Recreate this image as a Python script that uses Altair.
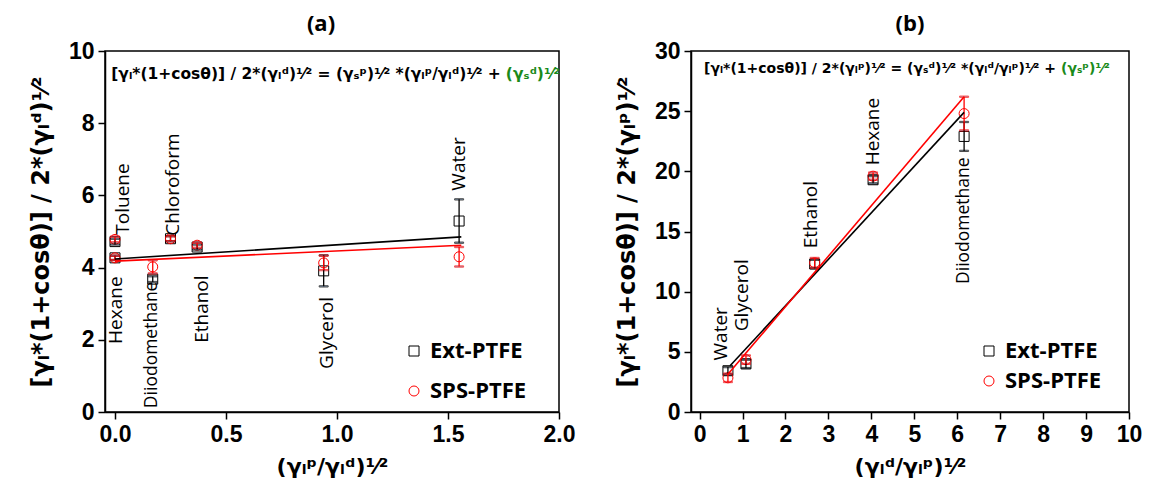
import altair as alt
import pandas as pd

# ---------------- Panel (a) data ----------------
a_solvents = ["Hexane", "Toluene", "Diiodomethane", "Chloroform", "Ethanol", "Glycerol", "Water"]
a_x = [0.0, 0.0, 0.17, 0.25, 0.37, 0.94, 1.55]
a_ext_y = [4.27, 4.72, 3.68, 4.80, 4.57, 3.91, 5.29]
a_ext_err = [0.06, 0.08, 0.08, 0.07, 0.07, 0.43, 0.60]
a_sps_y = [4.27, 4.78, 4.02, 4.80, 4.62, 4.13, 4.30]
a_sps_err = [0.06, 0.08, 0.18, 0.07, 0.07, 0.20, 0.27]
a_label_x = [0.005, 0.035, 0.165, 0.26, 0.39, 0.955, 1.55]
a_label_y = [2.82, 5.9, 1.86, 6.3, 2.85, 2.19, 6.87]
a_fit_x = [0.0, 1.56]
a_fit_ext = [4.24, 4.85]
a_fit_sps = [4.18, 4.62]
a_x_ticks = [0.0, 0.5, 1.0, 1.5, 2.0]
a_y_ticks = [0, 2, 4, 6, 8, 10]
a_formula_black = "[γₗ*(1+cosθ)] / 2*(γₗᵈ)¹⁄² = (γₛᵖ)¹⁄² *(γₗᵖ/γₗᵈ)¹⁄² +"
a_formula_green = "(γₛᵈ)¹⁄²"
a_formula_pos = [1.738, 9.36]

# ---------------- Panel (b) data ----------------
b_solvents = ["Water", "Glycerol", "Ethanol", "Hexane", "Diiodomethane"]
b_x = [0.66, 1.08, 2.68, 4.04, 6.16]
b_ext_y = [3.43, 4.00, 12.3, 19.3, 22.9]
b_ext_err = [0.30, 0.35, 0.35, 0.30, 1.20]
b_sps_y = [2.84, 4.35, 12.4, 19.6, 24.8]
b_sps_err = [0.35, 0.35, 0.40, 0.30, 1.40]
b_label_x = [0.51, 0.99, 2.60, 4.03, 6.16]
b_label_y = [6.5, 9.7, 16.4, 23.3, 15.9]
b_fit_ext_x = [0.71, 6.16]
b_fit_ext = [3.84, 24.9]
b_fit_sps_x = [0.65, 6.16]
b_fit_sps = [3.1, 26.2]
b_x_ticks = [0, 1, 2, 3, 4, 5, 6, 7, 8, 9, 10]
b_y_ticks = [0, 5, 10, 15, 20, 25, 30]
b_formula_black = "[γₗ*(1+cosθ)] / 2*(γₗᵖ)¹⁄² = (γₛᵈ)¹⁄² *(γₗᵈ/γₗᵖ)¹⁄² +"
b_formula_green = "(γₛᵖ)¹⁄²"
b_formula_pos = [8.3, 28.5]

SERIES = ["Ext-PTFE", "SPS-PTFE"]
COLORS = ["black", "red"]
SHAPES = ["square", "circle"]


def points_df(solvents, x, ext_y, ext_err, sps_y, sps_err):
    rows = []
    for s, xv, ey, ee, sy, se in zip(solvents, x, ext_y, ext_err, sps_y, sps_err):
        rows.append(dict(solvent=s, x=xv, y=ey, lo=ey - ee, hi=ey + ee, series="Ext-PTFE"))
        rows.append(dict(solvent=s, x=xv, y=sy, lo=sy - se, hi=sy + se, series="SPS-PTFE"))
    return pd.DataFrame(rows)


def fit_df(ext_x, ext_y, sps_x, sps_y):
    rows = [dict(x=a, y=b, series="Ext-PTFE") for a, b in zip(ext_x, ext_y)]
    rows += [dict(x=a, y=b, series="SPS-PTFE") for a, b in zip(sps_x, sps_y)]
    return pd.DataFrame(rows)


def panel(pts, fit, labels, fblack, fgreen, fpos, fsize, xdom, xticks, xfmt, ydom, yticks,
          xtitle, ytitle, title, title_dx, w, h, lx, ly, row_pad, title_offset):
    xs = alt.Scale(domain=xdom, nice=False, zero=False)
    ys = alt.Scale(domain=ydom, nice=False, zero=False)
    xax = alt.Axis(values=xticks, format=xfmt, title=xtitle, labelFlush=False)
    yax = alt.Axis(values=yticks, format="d", title=ytitle, labelFlush=False)
    leg = alt.Legend(title=None, orient="none", legendX=lx, legendY=ly,
                     labelFont="Open Sans", labelFontSize=22, labelFontWeight="bold",
                     labelColor="black", symbolSize=100, symbolStrokeWidth=1,
                     rowPadding=row_pad, labelOffset=5, padding=0)
    color = alt.Color("series:N", scale=alt.Scale(domain=SERIES, range=COLORS), legend=leg)
    shape = alt.Shape("series:N", scale=alt.Scale(domain=SERIES, range=SHAPES), legend=leg)
    stroke = alt.Stroke("series:N", scale=alt.Scale(domain=SERIES, range=COLORS), legend=None)

    X = alt.X("x:Q", scale=xs, axis=xax)
    Y = alt.Y("y:Q", scale=ys, axis=yax)

    base = alt.Chart(pts)
    pnt = base.mark_point(filled=False, size=100, strokeWidth=1, opacity=1).encode(
        x=X, y=Y, color=color, shape=shape)
    err = base.mark_errorbar(ticks={"size": 9}, thickness=1.3).encode(
        x=X, y=alt.Y("lo:Q", scale=ys, axis=yax), y2="hi:Q", stroke=stroke)
    line = alt.Chart(fit).mark_line(strokeWidth=1.6).encode(
        x=X, y=Y, stroke=stroke, detail="series:N")
    lab = alt.Chart(labels).mark_text(angle=270, align="center", baseline="middle",
                                      font="Open Sans", color="black").encode(
        x=alt.X("lx:Q", scale=xs, axis=xax), y=alt.Y("ly:Q", scale=ys, axis=yax),
        text="label:N",
        size=alt.condition(alt.datum.label == "Diiodomethane", alt.value(17.5), alt.value(19)))
    fdf = pd.DataFrame([dict(fx=fpos[0], fy=fpos[1], black=fblack, green=fgreen)])
    fb = alt.Chart(fdf).mark_text(align="right", baseline="middle", font="DejaVu Sans",
                                  fontWeight="bold", fontSize=fsize, color="black").encode(
        x=alt.X("fx:Q", scale=xs, axis=xax), y=alt.Y("fy:Q", scale=ys, axis=yax), text="black:N")
    fg = alt.Chart(fdf).mark_text(align="left", baseline="middle", font="DejaVu Sans",
                                  fontWeight="bold", fontSize=fsize, color="#1a8a1a", dx=5).encode(
        x=alt.X("fx:Q", scale=xs, axis=xax), y=alt.Y("fy:Q", scale=ys, axis=yax), text="green:N")
    return alt.layer(pnt, err, line, lab, fb, fg).properties(
        width=w, height=h,
        title=alt.TitleParams(title, fontSize=22, font="Open Sans", fontWeight="bold",
                              anchor="middle", offset=title_offset, dx=title_dx, color="black"))


pa_pts = points_df(a_solvents, a_x, a_ext_y, a_ext_err, a_sps_y, a_sps_err)
pa_fit = fit_df(a_fit_x, a_fit_ext, a_fit_x, a_fit_sps)
pa_lab = pd.DataFrame(dict(label=a_solvents, lx=a_label_x, ly=a_label_y))
pb_pts = points_df(b_solvents, b_x, b_ext_y, b_ext_err, b_sps_y, b_sps_err)
pb_fit = fit_df(b_fit_ext_x, b_fit_ext, b_fit_sps_x, b_fit_sps)
pb_lab = pd.DataFrame(dict(label=b_solvents, lx=b_label_x, ly=b_label_y))

pa = panel(pa_pts, pa_fit, pa_lab, a_formula_black, a_formula_green, a_formula_pos, 15.5,
           [-0.045, 2.0], a_x_ticks, ".1f", [0, 10], a_y_ticks,
           "(γₗᵖ/γₗᵈ)¹⁄²", "[γₗ*(1+cosθ)] / 2*(γₗᵈ)¹⁄²", "(a)", -11,
           454, 361, 298, 289, 18, 4)
pb = panel(pb_pts, pb_fit, pb_lab, b_formula_black, b_formula_green, b_formula_pos, 14,
           [-0.2, 10], b_x_ticks, "d", [0, 30], b_y_ticks,
           "(γₗᵈ/γₗᵖ)¹⁄²", "[γₗ*(1+cosθ)] / 2*(γₗᵖ)¹⁄²", "(b)", 0,
           438, 361, 287, 289, 8, 4)

chart = alt.hconcat(pa, pb, spacing=38).resolve_scale(
    color="independent", shape="independent", stroke="independent",
    x="independent", y="independent"
).resolve_legend(color="independent", shape="independent", stroke="independent").properties(
    padding={"left": 20, "top": 4, "right": 0, "bottom": 0}
).configure_view(stroke="black", strokeWidth=1.5).configure_axis(
    labelFont="Liberation Sans", labelFontWeight="bold", labelFontSize=23, labelColor="black",
    tickColor="black", domainColor="black", tickSize=7, tickWidth=1.5, domainWidth=1.5,
    grid=False, labelPadding=4, titleFont="DejaVu Sans", titleFontWeight="bold",
    titleColor="black", titlePadding=10
).configure_axisX(titleFontSize=22).configure_axisY(titlePadding=15, titleFontSize=24)

chart.save("out.html", embed_options={"renderer": "svg", "actions": False})
